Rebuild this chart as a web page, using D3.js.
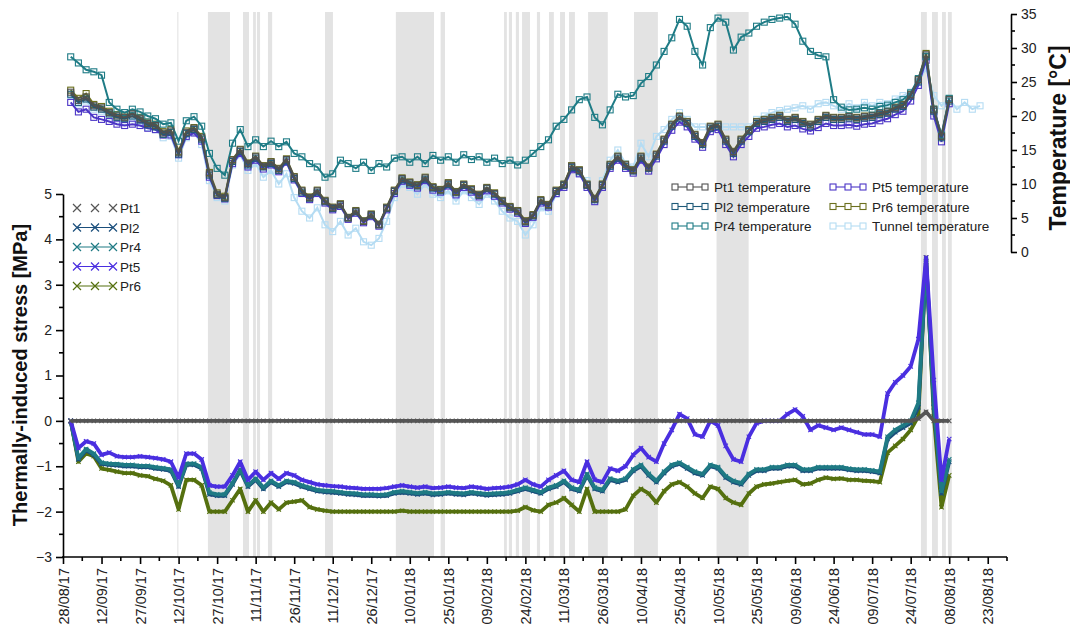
<!DOCTYPE html>
<html><head><meta charset="utf-8">
<script src="https://cdn.jsdelivr.net/npm/d3@7"></script>
<style>
body{margin:0;background:#fff}
svg{display:block;font-family:"Liberation Sans",Arial,sans-serif}
</style>
</head><body>
<svg id="chart" width="1070" height="637"></svg>
<script>
// ---------------- DATA ----------------
// sampling grid: one reading every 3 days starting 31/08/17
const sampleStart = new Date(2017, 7, 31);
const sampleStepDays = 3;

// Temperatures [°C]
const pt1Temp = [23.5,22.3,22.8,21.5,21.2,20.5,20.0,19.8,20.3,19.6,
 18.9,18.6,17.5,17.8,14.6,17.6,18.2,16.8,11.5,8.5,
 8.0,13.5,15.0,13.0,14.0,12.6,13.2,12.2,13.6,11.0,
 9.0,8.0,9.0,7.5,6.5,7.0,5.0,6.0,4.5,5.5,
 4.0,6.5,9.0,10.8,10.2,9.8,10.9,9.5,9.1,10.1,
 8.8,9.9,9.2,8.4,9.4,8.6,7.5,6.6,6.0,4.5,
 5.4,7.6,6.9,9.0,9.9,12.6,12.0,9.9,7.8,9.9,
 12.8,14.0,12.8,12.0,14.0,12.4,14.3,16.5,18.7,19.9,
 19.1,17.2,16.0,18.4,18.7,16.5,14.7,16.5,17.9,19.1,
 19.4,19.7,20.0,19.4,19.7,19.1,18.7,19.4,20.0,19.7,
 19.7,19.9,19.7,19.9,20.0,20.4,20.6,21.2,21.6,23.1,
 25.3,29.0,20.9,17.0,22.4];
const pl2Temp = [23.2,22.0,22.5,21.3,21.0,20.3,19.8,19.6,20.0,19.4,
 18.7,18.4,17.3,17.6,14.4,17.4,18.0,16.6,11.3,8.4,
 7.9,13.3,14.8,12.8,13.8,12.5,13.0,12.0,13.4,10.8,
 8.8,7.9,8.8,7.4,6.4,6.9,5.0,5.9,4.5,5.4,
 4.0,6.4,8.9,10.6,10.0,9.7,10.7,9.4,9.0,9.9,
 8.7,9.8,9.1,8.3,9.3,8.5,7.4,6.5,5.9,4.4,
 5.3,7.5,6.8,8.9,9.8,12.4,11.8,9.8,7.7,9.8,
 12.6,13.8,12.6,11.9,13.8,12.3,14.1,16.3,18.5,19.7,
 18.9,17.0,15.8,18.2,18.5,16.3,14.5,16.3,17.7,18.9,
 19.2,19.5,19.8,19.2,19.5,18.9,18.5,19.2,19.8,19.5,
 19.5,19.7,19.5,19.7,19.8,20.2,20.4,21.0,21.4,22.9,
 25.0,28.7,20.7,16.8,22.2];
const pr4Temp = [28.7,27.8,26.8,26.5,26.0,22.0,21.0,20.5,21.0,20.6,
 20.0,19.6,18.8,19.0,16.3,19.3,19.9,18.5,14.5,12.3,
 11.3,16.0,18.0,15.5,16.5,15.5,16.3,15.5,16.2,14.5,
 14.0,13.0,12.5,11.0,11.5,13.5,13.0,12.3,13.2,12.0,
 13.0,12.5,13.8,14.0,13.2,14.0,13.0,14.2,13.5,14.0,
 13.2,14.3,13.6,14.0,13.2,13.8,13.0,13.5,12.8,13.5,
 14.5,15.5,16.5,18.5,19.5,20.9,22.4,22.8,19.8,18.7,
 20.9,23.2,22.8,23.0,24.8,25.8,27.5,29.5,31.5,34.2,
 33.2,29.5,27.5,33.0,34.4,33.8,29.7,31.6,32.2,33.2,
 33.8,34.2,34.4,34.6,33.5,31.0,29.5,28.9,28.7,22.4,
 21.3,20.9,21.0,21.2,21.0,21.4,21.6,22.0,22.4,23.4,
 25.5,28.8,21.0,17.2,22.6];
const pt5Temp = [22.0,20.6,21.0,19.8,19.5,19.2,18.8,18.6,18.8,18.6,
 18.2,18.0,17.2,17.2,14.3,17.0,17.5,16.3,11.0,8.3,
 7.8,13.0,14.5,12.5,13.5,12.2,12.8,11.8,13.2,10.6,
 8.6,7.7,8.6,7.2,6.2,6.7,4.8,5.7,4.3,5.2,
 3.8,6.2,8.6,10.4,9.8,9.4,10.5,9.1,8.8,9.7,
 8.4,9.5,8.8,8.1,9.0,8.2,7.2,6.3,5.7,4.2,
 5.1,7.2,6.6,8.6,9.5,12.1,11.5,9.5,7.4,9.5,
 12.3,13.5,12.3,11.6,13.5,11.9,13.7,15.8,17.9,19.1,
 18.4,16.6,15.4,17.7,18.0,15.8,14.0,15.8,17.0,18.2,
 18.4,18.7,18.9,18.4,18.6,18.1,17.8,18.3,18.9,18.6,
 18.6,18.7,18.5,18.8,18.9,19.3,19.6,20.2,20.7,22.2,
 24.5,28.2,20.0,16.2,21.8];
const pr6Temp = [23.8,22.6,23.3,21.7,21.4,20.7,20.2,20.0,20.4,19.8,
 19.1,18.8,17.7,18.0,14.8,17.8,18.3,17.0,11.7,8.7,
 8.2,13.6,15.1,13.1,14.1,12.7,13.3,12.3,13.7,11.1,
 9.1,8.1,9.1,7.6,6.6,7.1,5.1,6.1,4.6,5.6,
 4.1,6.6,9.1,10.9,10.3,9.9,11.0,9.6,9.2,10.2,
 8.9,10.0,9.3,8.5,9.5,8.7,7.6,6.7,6.1,4.6,
 5.5,7.7,7.0,9.1,10.0,12.7,12.1,10.0,7.9,10.0,
 12.9,14.1,12.9,12.1,14.1,12.5,14.4,16.6,18.8,20.0,
 19.2,17.3,16.1,18.5,18.8,16.6,14.8,16.6,18.0,19.2,
 19.5,19.8,20.1,19.5,19.8,19.2,18.8,19.5,20.1,19.8,
 19.8,20.0,19.8,20.0,20.1,20.5,20.7,21.3,21.7,23.2,
 25.4,29.2,21.0,17.1,22.5];
const tunnelTemp = [23.0,21.8,22.2,21.0,20.7,20.0,19.4,19.2,19.6,19.0,
 18.3,18.0,16.8,17.0,13.8,16.8,17.6,15.8,10.5,8.0,
 7.5,12.8,14.3,12.0,13.0,11.0,12.0,10.0,11.5,8.0,
 6.0,5.0,6.5,4.0,3.0,4.5,2.5,3.5,1.5,1.0,
 2.0,4.5,8.0,10.0,9.5,8.5,10.0,8.5,8.0,9.0,
 7.5,9.0,8.0,7.0,8.5,7.5,6.0,5.0,4.5,2.5,
 4.0,6.5,6.0,8.5,10.0,12.5,11.5,10.5,7.5,10.5,
 13.5,15.0,13.0,12.5,16.0,14.0,17.0,18.0,19.5,20.5,
 19.5,18.4,18.4,18.4,18.4,18.4,18.4,18.4,18.4,19.5,
 20.0,20.5,20.8,21.0,21.2,21.5,21.0,21.8,22.0,21.5,
 21.0,21.8,21.2,22.0,21.5,22.0,21.8,22.5,23.0,23.5,
 25.0,27.0,23.0,21.5,22.5,21.0,22.0,21.0,21.5];

// Thermally-induced stress [MPa]
const pt1Stress = [0,0,0,0,0,0,0,0,0,0,
 0,0,0,0,0,0,0,0,0,0,
 0,0,0,0,0,0,0,0,0,0,
 0,0,0,0,0,0,0,0,0,0,
 0,0,0,0,0,0,0,0,0,0,
 0,0,0,0,0,0,0,0,0,0,
 0,0,0,0,0,0,0,0,0,0,
 0,0,0,0,0,0,0,0,0,0,
 0,0,0,0,0,0,0,0,0,0,
 0,0,0,0,0,0,0,0,0,0,
 0,0,0,0,0,0,0,0,0,0,
 0.05,0.2,0,0,0];
const pl2Stress = [0.0,-0.85,-0.65,-0.75,-0.95,-0.97,-0.98,-1.0,-1.0,-1.02,
 -1.02,-1.05,-1.07,-1.1,-1.45,-0.97,-0.97,-1.05,-1.62,-1.65,
 -1.65,-1.4,-1.1,-1.45,-1.3,-1.5,-1.35,-1.45,-1.35,-1.38,
 -1.45,-1.5,-1.55,-1.57,-1.58,-1.6,-1.62,-1.63,-1.65,-1.65,
 -1.66,-1.65,-1.6,-1.58,-1.6,-1.62,-1.6,-1.63,-1.62,-1.6,
 -1.62,-1.63,-1.6,-1.62,-1.64,-1.63,-1.62,-1.6,-1.55,-1.5,
 -1.55,-1.6,-1.5,-1.45,-1.35,-1.5,-1.55,-1.2,-1.5,-1.55,
 -1.3,-1.35,-1.3,-1.1,-1.0,-1.2,-1.35,-1.15,-1.0,-0.95,
 -1.05,-1.15,-1.2,-1.0,-1.05,-1.25,-1.35,-1.4,-1.2,-1.1,
 -1.1,-1.05,-1.05,-1.0,-1.0,-1.1,-1.1,-1.05,-1.05,-1.05,
 -1.05,-1.08,-1.1,-1.1,-1.12,-1.15,-0.4,-0.25,-0.15,-0.05,
 0.3,3.5,0.3,-1.6,-0.9];
const pr4Stress = [0.0,-0.82,-0.62,-0.72,-0.92,-0.94,-0.95,-0.97,-0.97,-0.99,
 -0.99,-1.02,-1.04,-1.07,-1.42,-0.94,-0.94,-1.02,-1.58,-1.62,
 -1.62,-1.37,-1.07,-1.42,-1.27,-1.47,-1.32,-1.42,-1.32,-1.35,
 -1.42,-1.47,-1.52,-1.54,-1.55,-1.57,-1.59,-1.6,-1.62,-1.62,
 -1.63,-1.62,-1.57,-1.55,-1.57,-1.59,-1.57,-1.6,-1.59,-1.57,
 -1.59,-1.6,-1.57,-1.59,-1.61,-1.6,-1.59,-1.57,-1.52,-1.47,
 -1.52,-1.57,-1.47,-1.42,-1.32,-1.47,-1.52,-1.17,-1.47,-1.52,
 -1.27,-1.32,-1.27,-1.07,-0.97,-1.17,-1.32,-1.12,-0.97,-0.92,
 -1.02,-1.12,-1.17,-0.97,-1.02,-1.22,-1.32,-1.37,-1.17,-1.07,
 -1.07,-1.02,-1.02,-0.97,-0.97,-1.07,-1.07,-1.02,-1.02,-1.02,
 -1.02,-1.05,-1.07,-1.07,-1.09,-1.12,-0.35,-0.2,-0.1,0.0,
 0.4,3.55,0.4,-1.55,-0.85];
const pt5Stress = [0.0,-0.6,-0.45,-0.5,-0.75,-0.7,-0.78,-0.8,-0.8,-0.78,
 -0.8,-0.82,-0.85,-0.9,-1.25,-0.72,-0.72,-0.85,-1.42,-1.45,
 -1.45,-1.2,-0.9,-1.3,-1.12,-1.3,-1.15,-1.28,-1.15,-1.2,
 -1.3,-1.35,-1.4,-1.42,-1.44,-1.45,-1.47,-1.48,-1.5,-1.5,
 -1.5,-1.48,-1.45,-1.42,-1.45,-1.47,-1.45,-1.48,-1.47,-1.45,
 -1.47,-1.48,-1.45,-1.47,-1.5,-1.48,-1.47,-1.45,-1.4,-1.3,
 -1.4,-1.45,-1.3,-1.2,-1.1,-1.3,-1.35,-0.9,-1.3,-1.35,
 -1.05,-1.1,-1.0,-0.75,-0.6,-0.8,-0.9,-0.5,-0.2,0.15,
 0.05,-0.3,-0.35,0.0,-0.1,-0.55,-0.85,-0.9,-0.35,-0.05,
 0.0,0.0,0.0,0.15,0.25,0.1,-0.2,-0.1,-0.15,-0.2,
 -0.15,-0.2,-0.25,-0.3,-0.3,-0.35,0.6,0.85,1.0,1.2,
 1.8,3.6,0.9,-1.3,-0.4];
const pr6Stress = [0.0,-0.9,-0.72,-0.78,-1.05,-1.08,-1.12,-1.15,-1.15,-1.2,
 -1.22,-1.28,-1.32,-1.42,-1.95,-1.3,-1.3,-1.42,-2.0,-2.0,
 -2.0,-1.75,-1.5,-2.0,-1.75,-2.0,-1.8,-1.95,-1.8,-1.78,
 -1.75,-1.9,-1.95,-1.98,-2.0,-2.0,-2.0,-2.0,-2.0,-2.0,
 -2.0,-2.0,-2.0,-1.98,-2.0,-2.0,-2.0,-2.0,-2.0,-2.0,
 -2.0,-2.0,-2.0,-2.0,-2.0,-2.0,-2.0,-2.0,-1.98,-1.9,
 -1.97,-2.0,-1.85,-1.8,-1.7,-1.85,-2.0,-1.5,-2.0,-2.0,
 -2.0,-2.0,-1.95,-1.65,-1.5,-1.6,-1.8,-1.55,-1.4,-1.35,
 -1.45,-1.6,-1.7,-1.45,-1.5,-1.7,-1.8,-1.85,-1.6,-1.45,
 -1.4,-1.38,-1.35,-1.32,-1.3,-1.4,-1.38,-1.3,-1.25,-1.28,
 -1.27,-1.3,-1.3,-1.32,-1.33,-1.35,-0.7,-0.55,-0.4,-0.2,
 0.1,3.6,0.1,-1.9,-1.2];

// shaded periods (start, end)
const shadedPeriods = [
 ["2017-10-11T12:00","2017-10-11T22:00"],
 ["2017-10-23T10:00","2017-11-01T00:00"],
 ["2017-11-06T02:00","2017-11-08T10:00"],
 ["2017-11-10T00:00","2017-11-11T02:00"],
 ["2017-11-11T12:00","2017-11-12T17:00"],
 ["2017-11-15T19:00","2017-11-17T10:00"],
 ["2017-12-08T00:00","2017-12-11T02:00"],
 ["2018-01-04T14:00","2018-01-19T10:00"],
 ["2018-01-22T00:00","2018-01-23T17:00"],
 ["2018-02-15T17:00","2018-02-16T19:00"],
 ["2018-02-17T14:00","2018-02-18T19:00"],
 ["2018-02-20T07:00","2018-02-21T12:00"],
 ["2018-02-22T17:00","2018-02-25T19:00"],
 ["2018-02-28T12:00","2018-03-01T17:00"],
 ["2018-03-05T05:00","2018-03-07T02:00"],
 ["2018-03-09T12:00","2018-03-11T10:00"],
 ["2018-03-13T00:00","2018-03-15T07:00"],
 ["2018-03-20T10:00","2018-03-28T02:00"],
 ["2018-04-07T07:00","2018-04-16T14:00"],
 ["2018-05-09T10:00","2018-05-21T22:00"],
 ["2018-07-28T00:00","2018-07-30T07:00"],
 ["2018-08-01T07:00","2018-08-03T14:00"],
 ["2018-08-05T05:00","2018-08-06T17:00"],
 ["2018-08-07T12:00","2018-08-09T00:00"]
];

const stressTicks = [-3,-2,-1,0,1,2,3,4,5];
const tempTicks = [0,5,10,15,20,25,30,35];
const dateTickStart = new Date(2017,7,28);
const dateTickEnd = new Date(2018,7,24);
const dateTickStepDays = 15;

// ---------------- CHART ----------------
const svg = d3.select("#chart");
const parse = d3.timeParse("%Y-%m-%dT%H:%M");
const grid = d3.range(tunnelTemp.length).map(i => d3.timeDay.offset(sampleStart, i*sampleStepDays));

const x = d3.scaleTime().domain([new Date(2017,7,28), new Date(2018,7,30,12)]).range([63, 1007]);
const yS = d3.scaleLinear().domain([-3,5]).range([557,194]);
const yT = d3.scaleLinear().domain([0,35]).range([252,14]);

// shaded bands
svg.append("g").selectAll("rect").data(shadedPeriods).join("rect")
  .attr("x", d => x(parse(d[0])))
  .attr("width", d => Math.max(1, x(parse(d[1])) - x(parse(d[0]))))
  .attr("y", 12).attr("height", 557-12)
  .attr("fill", "#e3e3e3");

// temperature series (drawn back to front)
const tempSeries = [
  {name:"Tunnel temperature", values:tunnelTemp, color:"#b5dcf3"},
  {name:"Pt5 temperature", values:pt5Temp, color:"#4c36c6"},
  {name:"Pr6 temperature", values:pr6Temp, color:"#6c701e"},
  {name:"Pl2 temperature", values:pl2Temp, color:"#1f5a78"},
  {name:"Pr4 temperature", values:pr4Temp, color:"#1f7c86"},
  {name:"Pt1 temperature", values:pt1Temp, color:"#505050"}
];
const tLine = d3.line().x((v,i)=>x(grid[i])).y(v=>yT(v));
tempSeries.forEach(s => {
  const g = svg.append("g");
  g.append("path").attr("d", tLine(s.values)).attr("fill","none")
    .attr("stroke", s.color).attr("stroke-width", 2);
  g.selectAll("rect").data(s.values).join("rect")
    .attr("x", (v,i)=>x(grid[i])-3).attr("y", v=>yT(v)-3)
    .attr("width",6).attr("height",6)
    .attr("fill","none").attr("stroke", s.color).attr("stroke-width",1.1);
});

// stress series
const stressSeries = [
  {name:"Pr6", values:pr6Stress, color:"#55700f", line:true},
  {name:"Pl2", values:pl2Stress, color:"#1b4f7c", line:true},
  {name:"Pr4", values:pr4Stress, color:"#1f7a84", line:true},
  {name:"Pt5", values:pt5Stress, color:"#4a2fe0", line:true},
  {name:"Pt1", values:pt1Stress, color:"#555555", line:false}
];
const sLine = d3.line().x((v,i)=>x(grid[i])).y(v=>yS(v));
const cross = r => `M${-r},${-r}L${r},${r}M${-r},${r}L${r},${-r}`;
stressSeries.forEach(s => {
  const g = svg.append("g");
  g.append("path").attr("d", sLine(s.values)).attr("fill","none")
    .attr("stroke", s.color).attr("stroke-width", 3.8).attr("stroke-linejoin","round");
  g.selectAll("path.m").data(s.values).join("path").attr("class","m")
    .attr("transform", (v,i)=>`translate(${x(grid[i])},${yS(v)})`)
    .attr("d", cross(2.2)).attr("stroke", s.color).attr("stroke-width",1.1);
});

// ---------------- AXES ----------------
const fmt = d3.timeFormat("%d/%m/%y");
const majorDates = d3.timeDay.range(dateTickStart, dateTickEnd, dateTickStepDays);
const minorDates = majorDates.map(d => new Date(+d + 7.5*864e5));

const styleAxis = g => {
  g.select(".domain").attr("stroke","#000").attr("stroke-width",1.6);
  g.selectAll(".tick line").attr("stroke","#000").attr("stroke-width",1.6);
  g.selectAll("text").attr("font-size",14).attr("fill","#222")
    .attr("font-family",'"Liberation Sans",Arial,sans-serif');
};

const xAxis = svg.append("g").attr("transform","translate(0,557)")
  .call(d3.axisBottom(x).tickValues(majorDates).tickFormat(fmt).tickSize(7).tickSizeOuter(0));
xAxis.select(".domain").attr("d", `M${x.range()[0]-1},0H${x.range()[1]}`);
xAxis.call(styleAxis);
xAxis.selectAll("text").attr("font-size",14.5).attr("transform","rotate(-90)").attr("text-anchor","end")
  .attr("x",-11).attr("y",0).attr("dy","0.35em");
svg.append("g").selectAll("line").data(minorDates).join("line")
  .attr("x1",d=>x(d)).attr("x2",d=>x(d)).attr("y1",557).attr("y2",561)
  .attr("stroke","#000").attr("stroke-width",1.6);

const yAxisL = svg.append("g").attr("transform","translate(63,0)")
  .call(d3.axisLeft(yS).tickValues(stressTicks).tickFormat(d3.format("d")).tickSize(7).tickSizeOuter(0));
yAxisL.call(styleAxis);
yAxisL.selectAll("text").attr("x",-11);
svg.append("g").selectAll("line").data(stressTicks.slice(0,-1).map(v=>v+0.5)).join("line")
  .attr("x1",59).attr("x2",63).attr("y1",d=>yS(d)).attr("y2",d=>yS(d))
  .attr("stroke","#000").attr("stroke-width",1.6);

const yAxisR = svg.append("g").attr("transform","translate(1011,0)")
  .call(d3.axisRight(yT).tickValues(tempTicks).tickFormat(d3.format("d")).tickSize(6).tickSizeOuter(0));
yAxisR.call(styleAxis);
yAxisR.selectAll("text").attr("x",10);
svg.append("g").selectAll("line").data(tempTicks.slice(0,-1).map(v=>v+2.5)).join("line")
  .attr("x1",1011).attr("x2",1015).attr("y1",d=>yT(d)).attr("y2",d=>yT(d))
  .attr("stroke","#000").attr("stroke-width",1.6);

// axis titles
svg.append("text").attr("transform","translate(27,375) rotate(-90)")
  .attr("text-anchor","middle").attr("font-weight","bold").attr("font-size",20)
  .attr("fill","#111").text("Thermally-induced stress [MPa]");
svg.append("text").attr("transform","translate(1066,138) rotate(-90)")
  .attr("text-anchor","middle").attr("font-weight","bold").attr("font-size",23)
  .attr("fill","#111").text("Temperature [°C]");

// ---------------- LEGENDS ----------------
const stressLegend = ["Pt1","Pl2","Pr4","Pt5","Pr6"].map(n => stressSeries.find(s=>s.name===n));
const sl = svg.append("g");
stressLegend.forEach((s,i) => {
  const yy = 208 + i*19.5;
  const g = sl.append("g").attr("transform",`translate(0,${yy})`);
  if (s.line) g.append("line").attr("x1",77).attr("x2",113).attr("stroke",s.color).attr("stroke-width",1.2);
  [77,95,113].forEach(xx => g.append("path").attr("transform",`translate(${xx},0)`)
    .attr("d",cross(4)).attr("stroke",s.color).attr("stroke-width",1.2));
  g.append("text").attr("x",120).attr("y",5).attr("font-size",13.5).attr("fill","#222").text(s.name);
});

const tempLegendCols = [
  ["Pt1 temperature","Pl2 temperature","Pr4 temperature"],
  ["Pt5 temperature","Pr6 temperature","Tunnel temperature"]
];
const tl = svg.append("g");
tempLegendCols.forEach((col,ci) => {
  const x0 = ci === 0 ? 675 : 833;
  col.forEach((name,ri) => {
    const s = tempSeries.find(t=>t.name===name);
    const yy = 187 + ri*19.5;
    const g = tl.append("g").attr("transform",`translate(${x0},${yy})`);
    g.append("line").attr("x1",0).attr("x2",30).attr("stroke",s.color).attr("stroke-width",1.1);
    [0,15,30].forEach(xx => g.append("rect").attr("x",xx-3).attr("y",-3).attr("width",6).attr("height",6)
      .attr("fill","#fff").attr("stroke",s.color).attr("stroke-width",1.1));
    g.append("text").attr("x",39).attr("y",5).attr("font-size",13.5).attr("fill","#222").text(name);
  });
});
</script>
</body></html>
